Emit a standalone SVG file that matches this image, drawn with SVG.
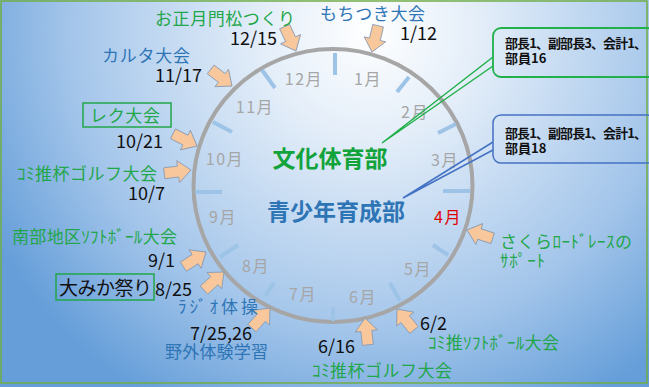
<svg xmlns="http://www.w3.org/2000/svg" xmlns:xlink="http://www.w3.org/1999/xlink" width="649" height="387" viewBox="0 0 649 387">
<defs>
<radialGradient id="bg" gradientUnits="userSpaceOnUse" cx="370" cy="30" r="430">
<stop offset="0" stop-color="#ffffff"/>
<stop offset="0.25" stop-color="#e4eef9"/>
<stop offset="0.7" stop-color="#a3c5ea"/>
<stop offset="1" stop-color="#659ed9"/>
</radialGradient>
<path id="arr" d="M0,0 L-13,-11 L-13,-5.5 L-27,-5.5 L-27,5.5 L-13,5.5 L-13,11 Z"/>
<style>
text{font-family:"Noto Sans CJK JP","Liberation Sans",sans-serif}
.g{fill:#22a64a;font-size:17px}
.b{fill:#2e75b6;font-size:17px}
.k{fill:#111111;font-size:18px}
.m{fill:#a6a6a6;font-size:16px;letter-spacing:1.5px;text-anchor:middle}
.ar{fill:#f8c79c;stroke:#8497b0;stroke-width:0.8}
.tk{stroke:#9dc3e6;stroke-width:4}
.c{fill:#111111;font-size:13px;font-weight:bold}
</style>
</defs>
<rect x="0" y="0" width="649" height="387" fill="url(#bg)"/>
<rect x="1" y="1" width="646" height="382" fill="none" stroke="#70ad47" stroke-width="1.5"/>

<g id="clock">
<ellipse cx="333" cy="185.5" rx="139.5" ry="136.5" fill="none" stroke="#a6a6a6" stroke-width="4"/>
<line class="tk" x1="335" y1="53" x2="335" y2="75"/>
<line class="tk" x1="409" y1="77" x2="397" y2="92"/>
<line class="tk" x1="456" y1="124" x2="438" y2="133"/>
<line class="tk" x1="470" y1="191" x2="443" y2="191"/>
<line class="tk" x1="448" y1="255" x2="433" y2="245"/>
<line class="tk" x1="400" y1="301" x2="390" y2="283"/>
<line class="tk" x1="333" y1="321" x2="333" y2="307"/>
<line class="tk" x1="265" y1="296" x2="274" y2="283"/>
<line class="tk" x1="220" y1="257" x2="238" y2="245"/>
<line class="tk" x1="195" y1="192" x2="222" y2="192"/>
<line class="tk" x1="213" y1="122" x2="232" y2="132"/>
<line class="tk" x1="262" y1="70" x2="275" y2="88"/>
<text class="m" x="304" y="85">12月</text>
<text class="m" x="368" y="85">1月</text>
<text class="m" x="255" y="113">11月</text>
<text class="m" x="415" y="118">2月</text>
<text class="m" x="225" y="165">10月</text>
<text class="m" x="445" y="166">3月</text>
<text class="m" x="223" y="223">9月</text>
<text class="m" x="448" y="223" style="fill:#e00000">4月</text>
<text class="m" x="256" y="272">8月</text>
<text class="m" x="418" y="275">5月</text>
<text class="m" x="303" y="300">7月</text>
<text class="m" x="363" y="303">6月</text>
</g>

<g id="connectors">
<polyline points="493,57 382,143 493,66" fill="none" stroke="#22b04b" stroke-width="1.5"/>
<polyline points="493,142 403,198 493,150" fill="none" stroke="#4472c4" stroke-width="1.5"/>
</g>

<g id="bunka">
<text x="330" y="167" text-anchor="middle" style="fill:#12a33b;font-size:23px;font-weight:bold">文化体育部</text>
</g>
<g id="seishonen">
<text x="336" y="220" text-anchor="middle" style="fill:#2e75b6;font-size:23px;font-weight:bold">青少年育成部</text>
</g>

<g id="callout-green">
<rect x="493" y="28" width="162" height="49" rx="8" fill="none" stroke="#22b04b" stroke-width="1.8"/>
<text class="c" x="505" y="48" textLength="142" lengthAdjust="spacing">部長1、副部長3、会計1、</text>
<text class="c" x="505" y="63">部員16</text>
</g>
<g id="callout-blue">
<rect x="493" y="115" width="162" height="48" rx="8" fill="none" stroke="#4472c4" stroke-width="1.5"/>
<text class="c" x="505" y="138" textLength="142" lengthAdjust="spacing">部長1、副部長1、会計1、</text>
<text class="c" x="505" y="153">部員18</text>
</g>

<g id="arrows">
<use xlink:href="#arr" class="ar" transform="translate(296,51) rotate(65)"/>
<use xlink:href="#arr" class="ar" transform="translate(372,52) rotate(103)"/>
<use xlink:href="#arr" class="ar" transform="translate(232,86) rotate(38)"/>
<use xlink:href="#arr" class="ar" transform="translate(197,146) rotate(27)"/>
<use xlink:href="#arr" class="ar" transform="translate(191,170) rotate(-7)"/>
<use xlink:href="#arr" class="ar" transform="translate(206,252) rotate(-33)"/>
<use xlink:href="#arr" class="ar" transform="translate(224,272) rotate(-42)"/>
<use xlink:href="#arr" class="ar" transform="translate(270,308) rotate(-48)"/>
<use xlink:href="#arr" class="ar" transform="translate(365,318) rotate(-96)"/>
<use xlink:href="#arr" class="ar" transform="translate(397,309) rotate(-129)"/>
<use xlink:href="#arr" class="ar" transform="translate(467,230) rotate(-162)"/>
</g>

<g id="ev-kadomatsu">
<text class="g" x="155" y="25" textLength="140" lengthAdjust="spacing">お正月門松つくり</text>
<text class="k" x="230" y="45">12/15</text>
</g>
<g id="ev-mochi">
<text class="b" x="320" y="20" textLength="105" lengthAdjust="spacing">もちつき大会</text>
<text class="k" x="400" y="40">1/12</text>
</g>
<g id="ev-karuta">
<text class="b" x="102" y="62" textLength="88" lengthAdjust="spacing">カルタ大会</text>
<text class="k" x="155" y="82">11/17</text>
</g>
<g id="ev-reku">
<rect x="83" y="103" width="88" height="24" fill="none" stroke="#22a64a" stroke-width="1.5"/>
<text class="g" x="90" y="122" textLength="70" lengthAdjust="spacing">レク大会</text>
<text class="k" x="116" y="148">10/21</text>
</g>
<g id="ev-golf1">
<text class="g" x="17" y="180" textLength="140" lengthAdjust="spacing">ｺﾐ推杯ゴルフ大会</text>
<text class="k" x="128" y="200">10/7</text>
</g>
<g id="ev-softball1">
<text class="g" x="12" y="243" textLength="165" lengthAdjust="spacing">南部地区ｿﾌﾄﾎﾞｰﾙ大会</text>
<text class="k" x="148" y="267">9/1</text>
</g>
<g id="ev-omika">
<rect x="56" y="274" width="98" height="26" fill="none" stroke="#22a64a" stroke-width="1.5"/>
<text x="59" y="295" textLength="93" lengthAdjust="spacing" style="fill:#111111;font-size:19px">大みか祭り</text>
<text class="k" x="155" y="296">8/25</text>
</g>
<g id="ev-radio">
<text class="b" x="178" y="313" textLength="80" lengthAdjust="spacing">ﾗｼﾞｵ体操</text>
</g>
<g id="ev-yagai">
<text class="k" x="190" y="340">7/25,26</text>
<text class="b" x="165" y="358" textLength="103" lengthAdjust="spacing">野外体験学習</text>
</g>
<g id="ev-golf2">
<text class="k" x="318" y="353">6/16</text>
<text class="g" x="312" y="377" textLength="140" lengthAdjust="spacing">ｺﾐ推杯ゴルフ大会</text>
</g>
<g id="ev-softball2">
<text class="k" x="420" y="330">6/2</text>
<text class="g" x="428" y="349" textLength="131" lengthAdjust="spacing">ｺﾐ推ｿﾌﾄﾎﾞｰﾙ大会</text>
</g>
<g id="ev-sakura">
<text class="g" x="500" y="248" textLength="132" lengthAdjust="spacing">さくらﾛｰﾄﾞﾚｰｽの</text>
<text class="g" x="500" y="267" textLength="45" lengthAdjust="spacing">ｻﾎﾟｰﾄ</text>
</g>
</svg>
